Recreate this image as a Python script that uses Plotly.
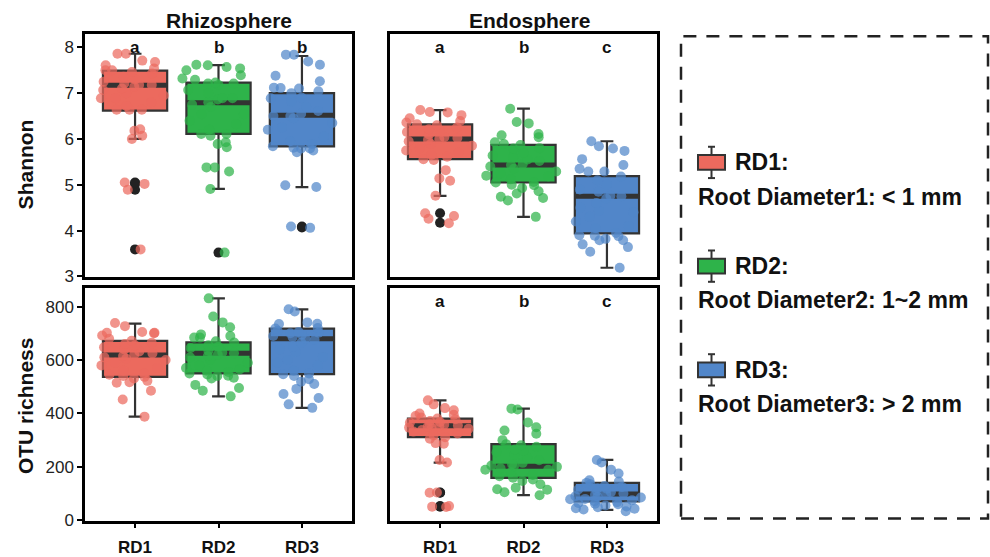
import plotly.graph_objects as go

# ---------------- data ----------------
GROUPS = ["RD1", "RD2", "RD3"]
PANEL_TITLES = ["Rhizosphere", "Endosphere"]
Y_TITLES = ["Shannon", "OTU richness"]
LEGEND_NAMES = ["RD1:", "RD2:", "RD3:"]
LEGEND_LABELS = ["Root Diameter1: < 1 mm", "Root Diameter2: 1~2 mm", "Root Diameter3: > 2 mm"]

SHANNON_TICKS = [3, 4, 5, 6, 7, 8]
OTU_TICKS = [0, 200, 400, 600, 800]

# significance letters (panel -> letters per group)
letters_shannon_rhizo = ["a", "b", "b"]
letters_shannon_endo = ["a", "b", "c"]
letters_otu_endo = ["a", "b", "c"]

# box statistics: q1, median, q3, lower whisker, upper whisker
shannon_rhizo_q1 = [6.62, 6.11, 5.84]
shannon_rhizo_med = [7.17, 6.79, 6.52]
shannon_rhizo_q3 = [7.49, 7.23, 7.00]
shannon_rhizo_lo = [6.00, 4.91, 4.95]
shannon_rhizo_hi = [7.86, 7.61, 7.81]

shannon_endo_q1 = [5.56, 5.05, 3.94]
shannon_endo_med = [6.00, 5.43, 4.75]
shannon_endo_q3 = [6.32, 5.87, 5.19]
shannon_endo_lo = [4.76, 4.30, 3.19]
shannon_endo_hi = [6.63, 6.66, 5.95]

otu_rhizo_q1 = [537, 550, 547]
otu_rhizo_med = [619, 625, 680]
otu_rhizo_q3 = [672, 666, 718]
otu_rhizo_lo = [388, 464, 421]
otu_rhizo_hi = [736, 831, 790]

otu_endo_q1 = [311, 159, 71]
otu_endo_med = [354, 202, 98]
otu_endo_q3 = [381, 285, 140]
otu_endo_lo = [216, 94, 39]
otu_endo_hi = [449, 418, 226]

# outliers
shannon_rhizo_out = [[5.05, 5.02, 4.89, 3.59], [3.52], [4.09, 4.07]]
shannon_endo_out = [[4.38, 4.17], [], []]
otu_rhizo_out = [[], [], []]
otu_endo_out = [[104, 103, 53, 51], [], []]

# individual samples
shannon_rhizo_RD1 = [7.86, 7.86, 7.71, 7.68, 7.61, 7.54, 7.50, 7.50, 7.46, 7.43, 7.36, 7.30,
                     7.25, 7.21, 7.18, 7.18, 7.14, 7.10, 7.07, 7.00, 6.95, 6.89, 6.89, 6.80,
                     6.72, 6.64, 6.64, 6.64, 6.21, 6.18, 6.07, 6.00, 5.05, 5.02, 4.89, 3.59]
shannon_rhizo_RD2 = [7.62, 7.61, 7.57, 7.54, 7.50, 7.39, 7.32, 7.29, 7.23, 7.21, 7.21, 7.18,
                     7.07, 7.00, 6.89, 6.89, 6.86, 6.80, 6.75, 6.70, 6.54, 6.54, 6.40, 6.32,
                     6.20, 6.11, 6.11, 6.07, 5.93, 5.89, 5.82, 5.38, 5.38, 5.29, 4.91, 3.52]
shannon_rhizo_RD3 = [7.84, 7.84, 7.69, 7.62, 7.38, 7.26, 7.12, 7.11, 7.10, 7.04, 7.00, 6.90,
                     6.89, 6.82, 6.70, 6.61, 6.55, 6.50, 6.50, 6.45, 6.35, 6.25, 6.20, 6.05,
                     5.95, 5.89, 5.84, 5.81, 5.79, 5.79, 5.75, 5.71, 4.99, 4.95, 4.09, 4.06]

shannon_endo_RD1 = [6.63, 6.59, 6.58, 6.52, 6.45, 6.39, 6.36, 6.32, 6.30, 6.25, 6.21, 6.18,
                    6.15, 6.10, 6.04, 6.02, 6.00, 5.98, 5.95, 5.89, 5.85, 5.80, 5.75, 5.70,
                    5.65, 5.61, 5.56, 5.54, 5.32, 5.14, 5.09, 4.76, 4.38, 4.32, 4.26, 4.16]
shannon_endo_RD2 = [6.66, 6.37, 6.34, 6.11, 6.08, 6.04, 5.93, 5.89, 5.87, 5.80, 5.79, 5.70,
                    5.64, 5.60, 5.55, 5.52, 5.45, 5.43, 5.40, 5.35, 5.29, 5.25, 5.20, 5.18,
                    5.12, 5.06, 5.05, 5.00, 4.99, 4.93, 4.86, 4.81, 4.74, 4.71, 4.66, 4.30]
shannon_endo_RD3 = [5.95, 5.84, 5.79, 5.74, 5.56, 5.43, 5.35, 5.29, 5.29, 5.18, 5.10, 5.00,
                    4.90, 4.85, 4.76, 4.75, 4.70, 4.60, 4.50, 4.43, 4.40, 4.30, 4.20, 4.10,
                    4.05, 3.95, 3.90, 3.89, 3.88, 3.82, 3.79, 3.79, 3.70, 3.64, 3.54, 3.19]

otu_rhizo_RD1 = [739, 727, 705, 702, 702, 700, 692, 680, 672, 665, 660, 655,
                 648, 640, 632, 625, 620, 615, 610, 605, 600, 590, 580, 570,
                 560, 550, 545, 540, 537, 531, 522, 517, 515, 485, 452, 388]
otu_rhizo_RD2 = [831, 763, 741, 723, 696, 690, 684, 684, 670, 666, 655, 650,
                 645, 635, 628, 625, 620, 615, 610, 600, 590, 580, 570, 565,
                 560, 555, 550, 546, 541, 540, 534, 531, 507, 495, 485, 464]
otu_rhizo_RD3 = [790, 782, 741, 736, 735, 720, 718, 710, 705, 702, 700, 695,
                 690, 685, 680, 675, 665, 650, 640, 630, 611, 600, 590, 580,
                 560, 550, 547, 540, 528, 519, 510, 492, 473, 458, 434, 421]

otu_endo_RD1 = [449, 434, 420, 412, 400, 395, 390, 385, 381, 378, 372, 368,
                365, 360, 358, 355, 352, 350, 347, 345, 343, 338, 332, 325,
                318, 311, 305, 289, 287, 226, 216, 104, 103, 53, 51, 50]
otu_endo_RD2 = [418, 415, 366, 348, 336, 324, 300, 285, 281, 275, 265, 260,
                255, 245, 235, 225, 215, 210, 205, 202, 200, 195, 189, 189,
                180, 170, 165, 159, 153, 147, 135, 122, 116, 114, 105, 94]
otu_endo_RD3 = [226, 216, 189, 175, 150, 145, 140, 135, 128, 125, 120, 118,
                115, 110, 105, 100, 98, 95, 90, 88, 85, 80, 79, 75,
                71, 68, 65, 62, 60, 55, 52, 49, 45, 43, 40, 34]

# ---------------- style ----------------
FILL = ["#EC6A5E", "#2EB34A", "#5186C9"]
EDGE = "#333333"
FONT = "Liberation Sans, Arial, sans-serif"
W, H = 990, 557


def px(x):
    return x / W


def py(y):
    return 1 - y / H


panels = [
    ("", (shannon_rhizo_q1, shannon_rhizo_med, shannon_rhizo_q3, shannon_rhizo_lo, shannon_rhizo_hi),
     shannon_rhizo_out, [shannon_rhizo_RD1, shannon_rhizo_RD2, shannon_rhizo_RD3], letters_shannon_rhizo, 8.0),
    ("2", (shannon_endo_q1, shannon_endo_med, shannon_endo_q3, shannon_endo_lo, shannon_endo_hi),
     shannon_endo_out, [shannon_endo_RD1, shannon_endo_RD2, shannon_endo_RD3], letters_shannon_endo, 8.0),
    ("3", (otu_rhizo_q1, otu_rhizo_med, otu_rhizo_q3, otu_rhizo_lo, otu_rhizo_hi),
     otu_rhizo_out, [otu_rhizo_RD1, otu_rhizo_RD2, otu_rhizo_RD3], None, None),
    ("4", (otu_endo_q1, otu_endo_med, otu_endo_q3, otu_endo_lo, otu_endo_hi),
     otu_endo_out, [otu_endo_RD1, otu_endo_RD2, otu_endo_RD3], letters_otu_endo, 818),
]

BOX_W = 0.77
JIT_W = 0.95
fig = go.Figure()
annotations = []

for suf, stats, outs, samples, letters, ly in panels:
    xa, ya = "x" + suf, "y" + suf
    q1, med, q3, lo, hi = stats
    for i, g in enumerate(GROUPS):
        fig.add_trace(go.Box(
            x=[g], q1=[q1[i]], median=[med[i]], q3=[q3[i]],
            lowerfence=[lo[i]], upperfence=[hi[i]],
            width=BOX_W, fillcolor=FILL[i], line=dict(color=EDGE, width=2.2),
            whiskerwidth=0.2, boxpoints=False, xaxis=xa, yaxis=ya, hoverinfo="skip"))
    for i, g in enumerate(GROUPS):
        fig.add_trace(go.Box(
            x=[g], q1=[med[i]], median=[med[i]], q3=[med[i]],
            lowerfence=[med[i]], upperfence=[med[i]],
            width=BOX_W, fillcolor="rgba(0,0,0,0)", line=dict(color=EDGE, width=5),
            whiskerwidth=0, boxpoints=False, xaxis=xa, yaxis=ya, hoverinfo="skip"))
    for i, g in enumerate(GROUPS):
        if outs[i]:
            fig.add_trace(go.Box(
                x=[g] * len(outs[i]), y=outs[i], boxpoints="all", jitter=0, pointpos=0,
                width=BOX_W, fillcolor="rgba(0,0,0,0)",
                line=dict(color="rgba(0,0,0,0)", width=0),
                marker=dict(color="#222222", size=10),
                xaxis=xa, yaxis=ya, hoverinfo="y"))
    for i, g in enumerate(GROUPS):
        fig.add_trace(go.Box(
            x=[g] * len(samples[i]), y=samples[i], boxpoints="all", jitter=1.0, pointpos=0,
            width=JIT_W, fillcolor="rgba(0,0,0,0)",
            line=dict(color="rgba(0,0,0,0)", width=0),
            marker=dict(color=FILL[i], size=10, opacity=0.72),
            xaxis=xa, yaxis=ya, hoverinfo="y"))
    if letters:
        for i, g in enumerate(GROUPS):
            annotations.append(dict(
                x=g, y=ly, xref=xa, yref=ya, text=letters[i], showarrow=False,
                font=dict(family=FONT, size=17, color="#111", weight="bold"),
                xanchor="center", yanchor="middle"))

for t, cx in zip(PANEL_TITLES, [229, 529]):
    annotations.append(dict(x=px(cx), y=py(21), xref="paper", yref="paper", text=t,
                            showarrow=False, xanchor="center", yanchor="middle",
                            font=dict(family=FONT, size=21, color="#111", weight="bold")))
for t, cy in zip(Y_TITLES, [168, 415]):
    annotations.append(dict(x=px(25), y=py(cy), xref="paper", yref="paper", text=t,
                            textangle=-90, showarrow=False, xanchor="center", yanchor="middle",
                            font=dict(family=FONT, size=21, color="#111", weight="bold")))

shapes = [dict(type="rect", xref="paper", yref="paper", x0=px(681), x1=px(988),
               y0=py(530), y1=py(37), line=dict(color="#222", width=2.5, dash="13px,10px"))]
icon_cy = [166, 272, 378]
text_cy = [201, 307, 413]
for i in range(3):
    c = icon_cy[i]
    cx = 711.5
    shapes += [
        dict(type="line", xref="paper", yref="paper", x0=px(cx), x1=px(cx), y0=py(c - 16), y1=py(c + 16),
             line=dict(color=EDGE, width=2)),
        dict(type="line", xref="paper", yref="paper", x0=px(cx - 3.5), x1=px(cx + 3.5), y0=py(c - 16), y1=py(c - 16),
             line=dict(color=EDGE, width=2)),
        dict(type="line", xref="paper", yref="paper", x0=px(cx - 3.5), x1=px(cx + 3.5), y0=py(c + 16), y1=py(c + 16),
             line=dict(color=EDGE, width=2)),
        dict(type="rect", xref="paper", yref="paper", x0=px(698), x1=px(725), y0=py(c + 7.5), y1=py(c - 7.5),
             fillcolor=FILL[i], line=dict(color=EDGE, width=2)),
    ]
    annotations.append(dict(x=px(733), y=py(c), xref="paper", yref="paper", text=LEGEND_NAMES[i],
                            showarrow=False, xanchor="left", yanchor="middle",
                            font=dict(family=FONT, size=23, color="#111", weight="bold")))
    annotations.append(dict(x=px(696), y=py(text_cy[i]), xref="paper", yref="paper", text=LEGEND_LABELS[i],
                            showarrow=False, xanchor="left", yanchor="middle",
                            font=dict(family=FONT, size=23, color="#111", weight="bold")))

xdom = [[px(85), px(352)], [px(390), px(657)]]
ydom = [[py(283), py(35)], [py(532), py(294)]]
common_x = dict(type="category", categoryorder="array", categoryarray=GROUPS, range=[-0.6, 2.6],
                showline=True, mirror=True, linecolor="black", linewidth=2.5, showgrid=False,
                zeroline=False, fixedrange=True)
common_y = dict(showline=True, mirror=True, linecolor="black", linewidth=2.5, showgrid=False,
                zeroline=False, fixedrange=True)
tickfont_y = dict(family=FONT, size=17, color="#222")
tickfont_x = dict(family=FONT, size=17, color="#111", weight="bold")

layout_axes = {}
for k, (r, c) in enumerate([(0, 0), (0, 1), (1, 0), (1, 1)]):
    suf = "" if k == 0 else str(k + 1)
    xa = dict(common_x, domain=xdom[c], anchor="y" + suf)
    if r == 1:
        xa.update(showticklabels=True, ticks="outside", ticklen=5, tickwidth=1.5, tickcolor="black",
                  tickfont=tickfont_x, ticklabelstandoff=4)
    else:
        xa.update(showticklabels=False, ticks="")
    ya = dict(common_y, domain=ydom[r], anchor="x" + suf)
    if r == 0:
        ya.update(range=[2.99, 8.285], tickvals=SHANNON_TICKS)
    else:
        ya.update(range=[-1, 871], tickvals=OTU_TICKS)
    if c == 0:
        ya.update(showticklabels=True, ticks="outside", ticklen=5, tickwidth=1.5, tickcolor="black",
                  tickfont=tickfont_y)
    else:
        ya.update(showticklabels=False, ticks="")
    layout_axes["xaxis" + suf] = xa
    layout_axes["yaxis" + suf] = ya

fig.update_layout(
    width=W, height=H, autosize=False,
    margin=dict(l=0, r=0, t=0, b=0),
    paper_bgcolor="white", plot_bgcolor="white",
    showlegend=False, boxmode="overlay",
    annotations=annotations, shapes=shapes,
    font=dict(family=FONT),
    **layout_axes,
)

fig.write_html("out.html", config={"displayModeBar": False},
               post_script="document.body.style.margin='0px';")
